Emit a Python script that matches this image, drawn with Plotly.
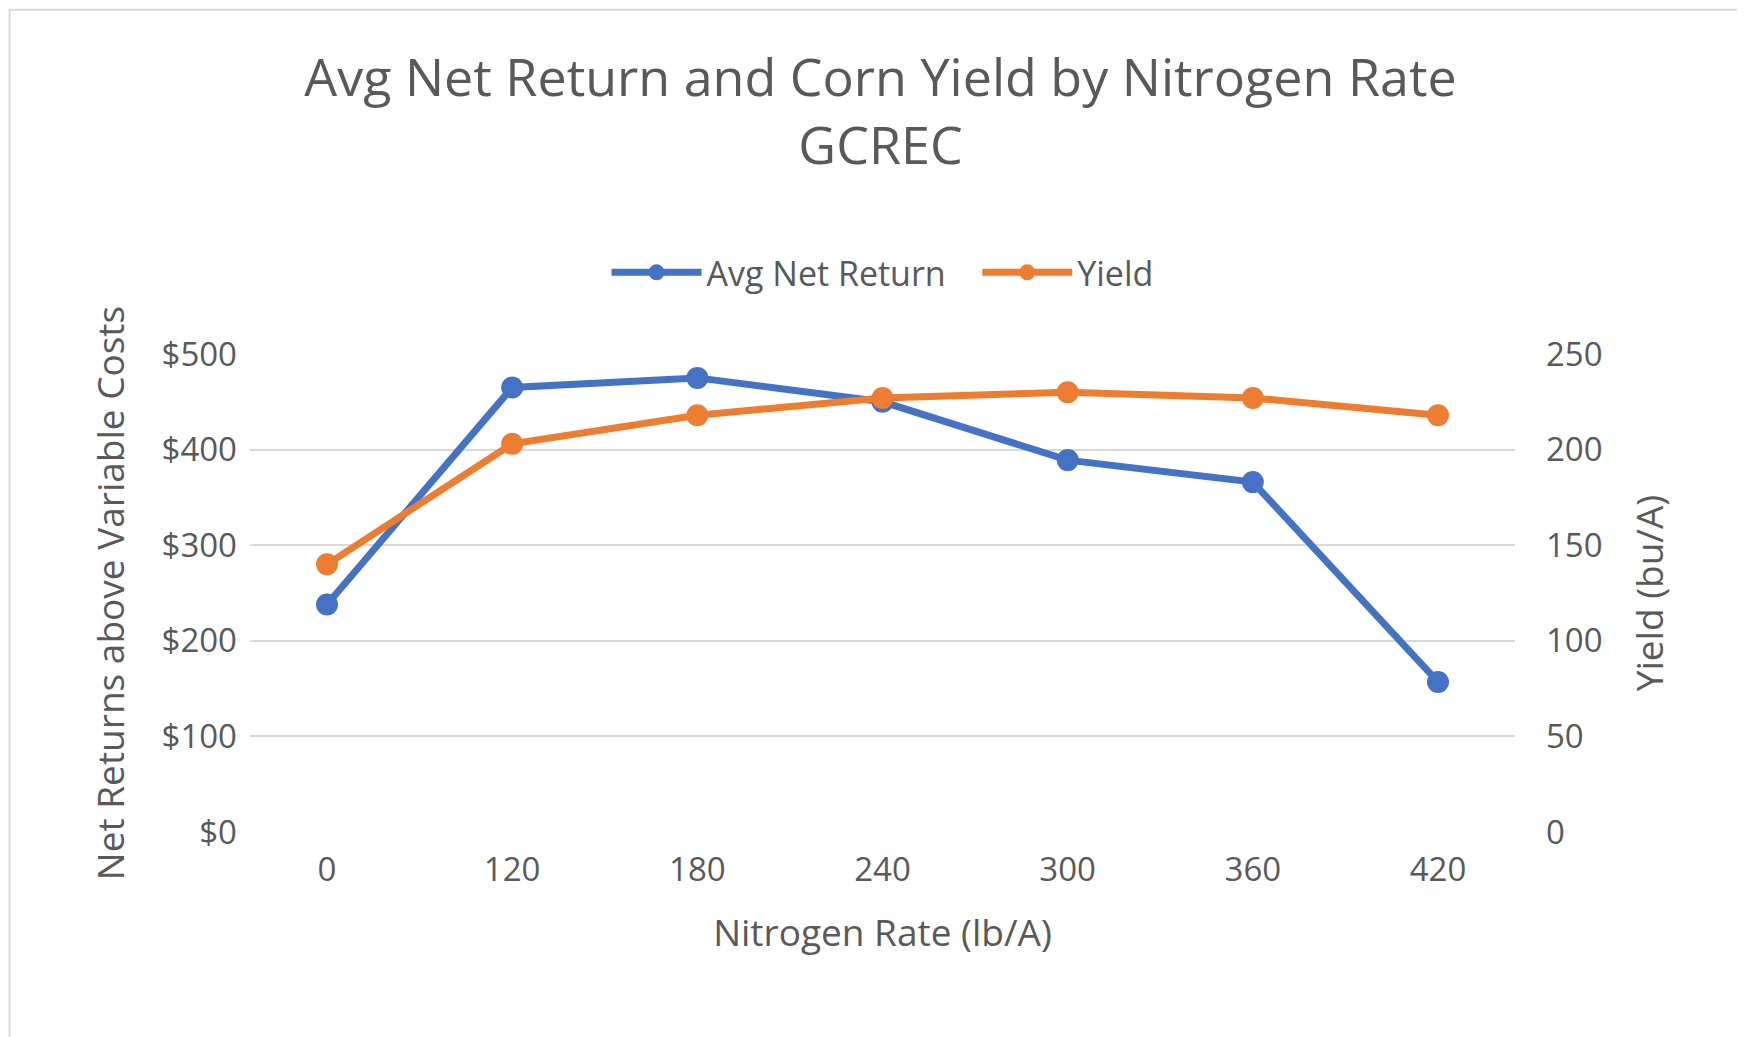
import plotly.graph_objects as go

rates = ["0", "120", "180", "240", "300", "360", "420"]
net_return = [238, 465, 475, 450, 389, 366, 157]
yield_bu = [140, 203, 218, 227, 230, 227, 218]

font = "Open Sans"
grey = "#595959"
fig = go.Figure()
fig.add_trace(go.Scatter(x=rates, y=net_return, name="Avg Net Return   ", mode="lines+markers",
                         line=dict(color="#4472C4", width=7), marker=dict(size=22, color="#4472C4")))
fig.add_trace(go.Scatter(x=rates, y=yield_bu, name="Yield", mode="lines+markers", yaxis="y2",
                         line=dict(color="#ED7D31", width=7), marker=dict(size=22, color="#ED7D31")))
fig.update_layout(
    width=1745, height=1037, paper_bgcolor="white", plot_bgcolor="white",
    font=dict(family=font, color=grey, size=33),
    title=dict(text="Avg Net Return and Corn Yield by Nitrogen Rate<br>GCREC", x=0.5, y=0.915,
               yanchor="top", font=dict(size=52, color=grey)),
    legend=dict(orientation="h", x=0.5, xanchor="center", y=1.17, yanchor="middle",
                font=dict(size=34), itemwidth=90),
    margin=dict(l=242, r=238, t=346, b=213),
    xaxis=dict(title=dict(text="Nitrogen Rate (lb/A)", font=dict(size=37), standoff=30),
               showgrid=False, showline=False, ticks="", ticklabelstandoff=15),
    yaxis=dict(title=dict(text="Net Returns above Variable Costs", font=dict(size=37), standoff=25),
               range=[0, 500], dtick=100, tickprefix="$", gridcolor="#D9D9D9", gridwidth=2,
               zeroline=False, showline=False, ticklabelstandoff=12),
    yaxis2=dict(title=dict(text="Yield (bu/A)", font=dict(size=37), standoff=35),
                range=[0, 250], dtick=50, overlaying="y", side="right", showgrid=False,
                zeroline=False, ticklabelstandoff=30),
    shapes=[dict(type="rect", xref="paper", yref="paper", x0=-0.190, x1=1.186, y0=-0.443, y1=1.72,
                 line=dict(color="#D9D9D9", width=2))],
)
fig.write_html("out.html")
